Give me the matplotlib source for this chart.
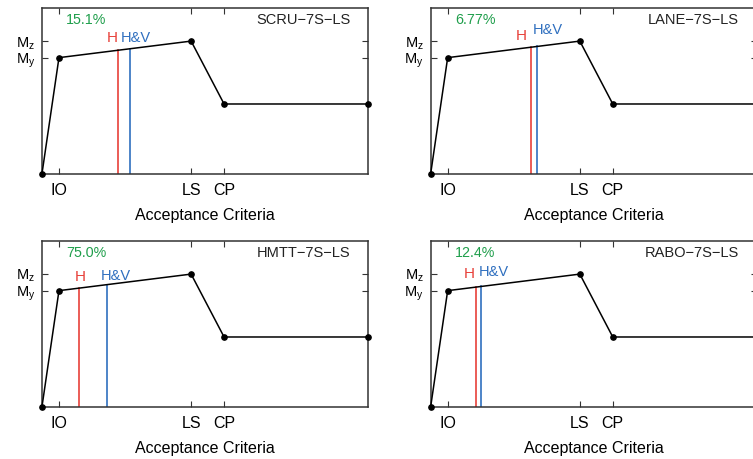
import numpy as np
import matplotlib
matplotlib.use('Agg')
import matplotlib.pyplot as plt

plt.rcParams['font.family'] = ['Liberation Sans', 'DejaVu Sans']
plt.rcParams['mathtext.fontset'] = 'custom'
plt.rcParams['mathtext.rm'] = 'Liberation Sans'
plt.rcParams['mathtext.it'] = 'Liberation Sans:italic'

# backbone curve (normalised): origin, IO, LS, CP, end
curve_x = [0.0, 0.52, 4.57, 5.58, 10.0]
curve_y = [0.0, 0.70, 0.80, 0.42, 0.42]
crit_ticks = [0.52, 4.57, 5.58]
crit_labels = ['IO', 'LS', 'CP']
moment_ticks = [0.70, 0.80]
moment_labels = [r'$\mathregular{M_y}$', r'$\mathregular{M_z}$']

names = ['SCRU\u22127S\u2212LS', 'LANE\u22127S\u2212LS', 'HMTT\u22127S\u2212LS', 'RABO\u22127S\u2212LS']
percents = ['15.1%', '6.77%', '75.0%', '12.4%']
h_x = [2.32, 3.06, 1.14, 1.39]
hv_x = [2.69, 3.26, 2.00, 1.55]

# label placement for H / H&V text (x centre, y)
h_lab = [(2.15, 0.82), (2.78, 0.83), (1.16, 0.78), (1.18, 0.80)]
hv_lab = [(2.86, 0.82), (3.59, 0.87), (2.26, 0.79), (1.92, 0.81)]

red = '#e8413a'
blue = '#2f6fbf'
green = '#1f9e4b'

fig = plt.figure(figsize=(7.53, 4.59), dpi=100)
W, H = 753, 459
boxes = [(42, 8), (430.7, 8), (42, 241), (430.7, 241)]
aw, ah = 326.3, 165.5

for i, (px, py) in enumerate(boxes):
    ax = fig.add_axes([px / W, 1 - (py + ah) / H, aw / W, ah / H])
    ax.plot(curve_x, curve_y, color='black', lw=1.1, marker='o', ms=3.8,
            clip_on=False, zorder=5)
    yh = np.interp(h_x[i], curve_x, curve_y)
    yhv = np.interp(hv_x[i], curve_x, curve_y)
    ax.plot([h_x[i], h_x[i]], [0, yh], color=red, lw=1.2)
    ax.plot([hv_x[i], hv_x[i]], [0, yhv], color=blue, lw=1.2)
    ax.text(h_lab[i][0], h_lab[i][1], 'H', color=red, fontsize=11,
            ha='center', va='center')
    ax.text(hv_lab[i][0], hv_lab[i][1], 'H&V', color=blue, fontsize=10.5,
            ha='center', va='center')
    ax.text(0.074, 0.925, percents[i], transform=ax.transAxes, color=green,
            fontsize=10.3, ha='left', va='center')
    ax.text(0.945, 0.925, names[i], transform=ax.transAxes, color='#222222',
            fontsize=10.5, ha='right', va='center')

    ax.set_xlim(0, 10)
    ax.set_ylim(0, 1)
    ax.set_xticks(crit_ticks)
    ax.set_xticklabels(crit_labels)
    ax.set_yticks(moment_ticks)
    ax.set_yticklabels(moment_labels)
    ax.tick_params(direction='in', length=4, width=0.8, color='#333333',
                   top=True, right=True, labelsize=11.5)
    ax.tick_params(axis='x', pad=7)
    ax.tick_params(axis='y', pad=5, labelsize=10.5)
    ax.set_xlabel('Acceptance Criteria', fontsize=11.5, labelpad=7)
    for s in ax.spines.values():
        s.set_linewidth(1.1)
        s.set_color('#333333')

fig.savefig('out.png', dpi=100)
